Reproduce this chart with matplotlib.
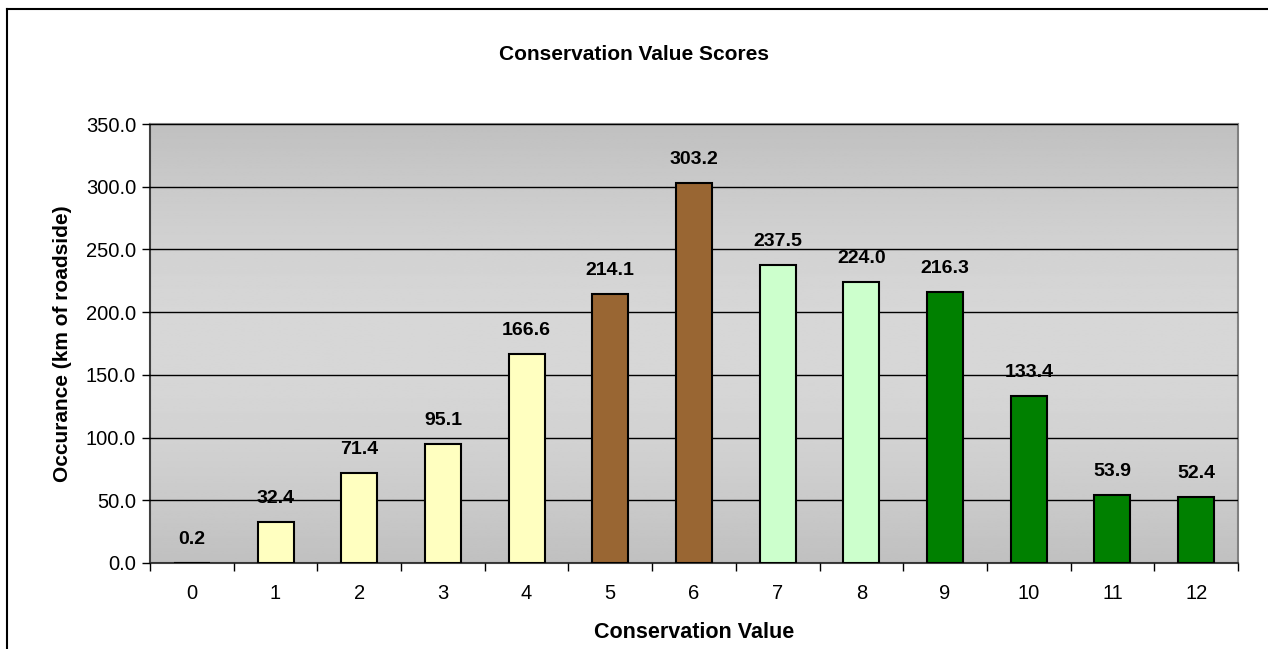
import numpy as np
import matplotlib
matplotlib.use("Agg")
import matplotlib.pyplot as plt
from matplotlib.lines import Line2D

plt.rcParams['font.family'] = ['Liberation Sans', 'DejaVu Sans']

# data
scores = [0, 1, 2, 3, 4, 5, 6, 7, 8, 9, 10, 11, 12]
km = [0.2, 32.4, 71.4, 95.1, 166.6, 214.1, 303.2, 237.5, 224.0, 216.3, 133.4, 53.9, 52.4]
colours = ['#FFFFC0'] * 5 + ['#996633'] * 2 + ['#CCFFCC'] * 2 + ['#008000'] * 4

fig = plt.figure(figsize=(12.68, 6.49), dpi=100)
ax = fig.add_axes([150/1268, 1 - 563/649, (1238-150)/1268, (563-124)/649])

x = np.arange(len(scores))
ax.set_xlim(-0.5, len(scores) - 0.5)
ax.set_ylim(0, 350)

# plot area gradient: dark at top and bottom, lighter in the middle
t = np.linspace(0, 1, 256)
g = 0.753 + 0.09 * np.sin(np.pi * t)
grad = np.repeat(g[:, None], 2, axis=1)
ax.imshow(grad, cmap='gray', vmin=0, vmax=1, aspect='auto',
          extent=[-0.5, len(scores) - 0.5, 0, 350], zorder=0, origin='lower')

ax.bar(x, km, width=0.43, color=colours, edgecolor='black', linewidth=1.5, zorder=3)

for xi, v in zip(x, km):
    ax.annotate('%.1f' % v, (xi, v), xytext=(0, 17), textcoords='offset points',
                ha='center', va='center', fontsize=14, fontweight='bold', zorder=4)

ax.set_yticks(np.arange(0, 351, 50))
ax.set_yticklabels(['%.1f' % v for v in np.arange(0, 351, 50)], fontsize=14.5)
ax.yaxis.grid(True, color='black', linewidth=1)
ax.set_axisbelow(False)
for gl in ax.get_ygridlines():
    gl.set_zorder(1)

ax.set_xticks(x)
ax.set_xticklabels([str(s) for s in scores], fontsize=14.5)
ax.tick_params(axis='x', length=0, pad=15)
ax.set_xticks(np.arange(-0.5, len(scores), 1), minor=True)
ax.tick_params(axis='x', which='minor', length=6, width=1, direction='out')
ax.tick_params(axis='y', length=6, width=1, direction='out', pad=4)

for side in ['left', 'bottom']:
    ax.spines[side].set_color('#404040')
    ax.spines[side].set_linewidth(1.5)
for side in ['top', 'right']:
    ax.spines[side].set_color('#808080')
    ax.spines[side].set_linewidth(1.5)

ax.set_xlabel('Conservation Value', fontsize=15.5, fontweight='bold', labelpad=14)
ax.set_ylabel('Occurance (km of roadside)', fontsize=15, fontweight='bold', labelpad=10)
fig.text(0.5, 1 - 55/649, 'Conservation Value Scores', ha='center', va='center',
         fontsize=15, fontweight='bold')

# chart border (only top and left visible in the crop)
fig.add_artist(Line2D([7/1268, 1], [1 - 9/649, 1 - 9/649], color='black', linewidth=1.5))
fig.add_artist(Line2D([7/1268, 7/1268], [0, 1 - 9/649], color='black', linewidth=1.5))

fig.savefig('out.png', dpi=100)
